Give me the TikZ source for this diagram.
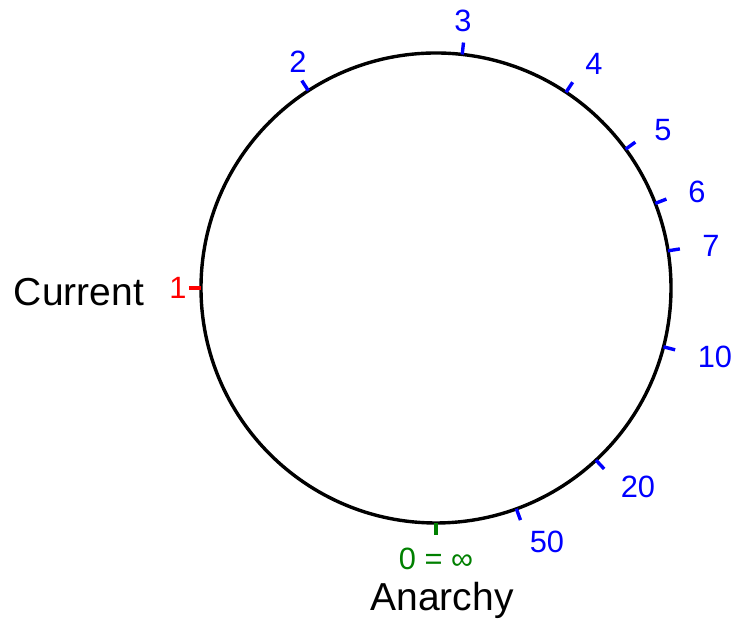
\documentclass[tikz,border=0pt]{standalone}
\usepackage{fontspec}
\setmainfont{Liberation Sans}
\usetikzlibrary{calc}
\definecolor{scaleblue}{RGB}{0,0,255}
\definecolor{nowred}{RGB}{255,0,0}
\definecolor{endgreen}{RGB}{0,128,0}
\tikzset{tick/.style={line width=1.7pt},
  num/.style={font=\fontsize{15.4}{18}\selectfont, inner sep=0pt},
  word/.style={font=\fontsize{19.5}{23}\selectfont, inner sep=0pt}}

\begin{document}
\begin{tikzpicture}[x=0.5pt, y=0.5pt]
  \useasboundingbox (0,0) rectangle (735,619);
  \coordinate (c) at (436,331);
  \draw[line width=1.7pt] (c) circle[radius=235];
  % blue scale marks: angle of the tick, then where its number sits
  \foreach \i/\a/\lx/\ly in {2/122.9/298/557, 3/83.6/463/598, 4/56.4/594/555,
      5/36.2/663/489, 6/21.1/697/427, 7/9.1/711/373, 10/-14.5/715/262,
      20/-47.1/638/132, 50/-70/547/77}{
    \draw[tick, scaleblue] ($(c)+(\a:235)$) -- ($(c)+(\a:247)$);
    \node[num, text=scaleblue] (n\i) at (\lx,\ly) {\i};
  }
  \draw[tick, nowred] ($(c)+(180:235)$) -- ($(c)+(180:247)$);
  \node[num, text=nowred] (n1) at (178,331) {1};
  \node[word] (current) at (79,327) {Current};
  \draw[tick, endgreen] ($(c)+(270:235)$) -- ($(c)+(270:247)$);
  \node[num, text=endgreen] (n0) at (436,60) {0 = ∞};
  \node[word] (anarchy) at (442,19) {Anarchy};
\end{tikzpicture}
\end{document}
